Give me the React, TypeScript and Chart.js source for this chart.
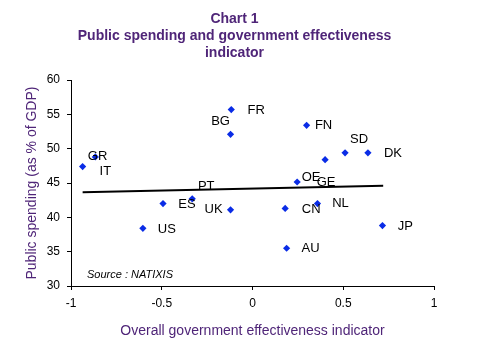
import React, { useEffect, useRef } from "react";
import { Chart, registerables } from "chart.js";

Chart.register(...registerables);

const countries = ["GR", "IT", "BG", "FR", "FN", "GE", "SD", "DK", "OE", "ES", "PT", "UK", "US", "CN", "NL", "JP", "AU"];
const effectiveness = [-0.936, -0.866, -0.121, -0.117, 0.298, 0.4, 0.51, 0.636, 0.246, -0.493, -0.332, -0.121, -0.604, 0.18, 0.358, 0.716, 0.188];
const spending = [47.4, 48.8, 52.1, 55.7, 53.4, 48.4, 49.4, 49.4, 45.15, 42.0, 42.7, 41.1, 38.4, 41.3, 42.0, 38.8, 35.5];
const trendX = [-0.936, 0.72];
const trendY = [43.64, 44.61];
const xTicks = [-1, -0.5, 0, 0.5, 1];
const yTicks = [30, 35, 40, 45, 50, 55, 60];

// label offsets (px) relative to each point
const labelOffsets: [number, number][] = [
  [15, -10], [10, 14], [-10, -13], [25, 1], [17, 0], [1, 23], [14, -13], [25, 1],
  [14, -5], [24, 1], [14, -12], [-17, 0], [24, 1], [26, 1], [23, 0], [23, 1], [24, 0],
];

const FONT = "'Liberation Sans', Arial, sans-serif";
const PURPLE = "#4f2578";
const BLUE = "#0a2ce6";

export default function App() {
  const ref = useRef<HTMLCanvasElement>(null);
  useEffect(() => {
    const labelPlugin = {
      id: "pointLabels",
      afterDatasetsDraw(chart: any) {
        const ctx = chart.ctx;
        const meta = chart.getDatasetMeta(0);
        ctx.save();
        ctx.font = `13px ${FONT}`;
        ctx.fillStyle = "#000";
        ctx.textAlign = "center";
        ctx.textBaseline = "middle";
        meta.data.forEach((pt: any, i: number) => {
          const [dx, dy] = labelOffsets[i];
          ctx.fillText(countries[i], pt.x + dx, pt.y + dy);
        });
        const ca = chart.chartArea;
        ctx.font = `italic 11px ${FONT}`;
        ctx.textAlign = "left";
        ctx.fillText("Source : NATIXIS", ca.left + 16, ca.bottom - 11);
        ctx.restore();
      },
    };
    const chart = new Chart(ref.current!, {
      type: "scatter",
      data: {
        datasets: [
          {
            type: "scatter",
            data: effectiveness.map((x, i) => ({ x, y: spending[i] })),
            pointStyle: "rectRot",
            pointRadius: 3.6,
            pointBorderWidth: 0,
            backgroundColor: BLUE,
            borderColor: BLUE,
          },
          {
            type: "line",
            data: trendX.map((x, i) => ({ x, y: trendY[i] })),
            borderColor: "#000",
            borderWidth: 2,
            pointRadius: 0,
            fill: false,
          } as any,
        ],
      },
      plugins: [labelPlugin],
      options: {
        animation: false,
        responsive: false,
        layout: { padding: { left: 0, right: 9, top: 0, bottom: 0 } },
        plugins: {
          legend: { display: false },
          tooltip: { enabled: false },
          title: {
            display: true,
            text: ["Chart 1", "Public spending and government effectiveness", "indicator"],
            color: PURPLE,
            font: { family: FONT, size: 14, weight: "bold", lineHeight: 1.23 },
            padding: { top: 10.1, bottom: 18.3 },
          },
        },
        scales: {
          x: {
            type: "linear",
            min: -1,
            max: 1,
            afterBuildTicks: (s: any) => { s.ticks = xTicks.map((v) => ({ value: v })); },
            afterFit: (s: any) => { s.height = 70; },
            ticks: { color: "#000", font: { family: FONT, size: 12 }, padding: 6, callback: (v: any) => String(v) },
            grid: { drawOnChartArea: false, tickLength: 4, color: "#000" },
            border: { color: "#000", width: 1 },
            title: {
              display: true,
              text: "Overall government effectiveness indicator",
              color: PURPLE,
              font: { family: FONT, size: 14 },
              padding: { top: 0, bottom: 16.6 },
            },
          },
          y: {
            type: "linear",
            min: 30,
            max: 60,
            afterBuildTicks: (s: any) => { s.ticks = yTicks.map((v) => ({ value: v })); },
            afterFit: (s: any) => { s.width = 71; },
            ticks: { color: "#000", font: { family: FONT, size: 12 }, padding: 7, callback: (v: any) => String(v) },
            grid: { drawOnChartArea: false, tickLength: 4, color: "#000" },
            border: { color: "#000", width: 1 },
            title: {
              display: true,
              text: "Public spending (as % of GDP)",
              color: PURPLE,
              font: { family: FONT, size: 14 },
              padding: { top: 23.3, bottom: 0 },
            },
          },
          spacer: {
            type: "linear",
            position: "right",
            display: true,
            min: 30,
            max: 60,
            afterFit: (s: any) => { s.width = 35; },
            ticks: { display: false },
            grid: { display: false, drawTicks: false },
            border: { display: false },
          },
        },
      } as any,
    });
    return () => chart.destroy();
  }, []);
  return (
    <div style={{ position: "absolute", left: 0, top: 0, width: 478, height: 356, background: "#fff" }}>
      <canvas ref={ref} width={478} height={356} style={{ width: 478, height: 356 }} />
    </div>
  );
}
